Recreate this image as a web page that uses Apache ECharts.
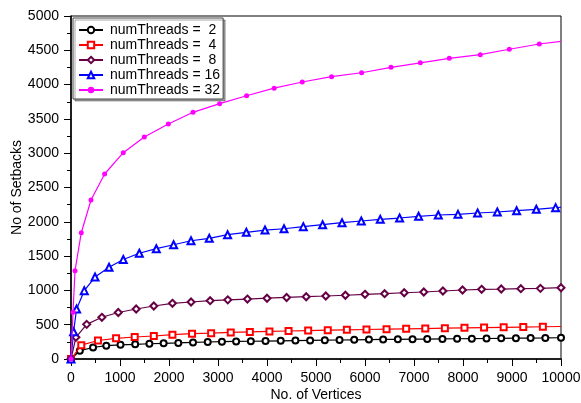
<!DOCTYPE html>
<html>
<head>
<meta charset="utf-8">
<script src="https://cdn.jsdelivr.net/npm/echarts@6/dist/echarts.min.js"></script>
<style>
  html, body { margin: 0; padding: 0; background: #fff; }
  #chart { width: 581px; height: 403px; }
</style>
</head>
<body>
<div id="chart"></div>
<script>
// ===== datos =====
const X_TICKS = [0, 10000, 1000];
const Y_TICKS = [0, 5000, 500];

const names = ['numThreads =  2', 'numThreads =  4', 'numThreads =  8', 'numThreads = 16', 'numThreads = 32'];

const x2 = [0, 180, 450, 720, 1010, 1310, 1600, 1890, 2190, 2490, 2790, 3080, 3370, 3670, 3970, 4280, 4580, 4880, 5180, 5480, 5780, 6080, 6370, 6670, 6970, 7270, 7580, 7880, 8180, 8480, 8780, 9080, 9380, 9680, 10000];
const y2 = [0, 121, 168, 194, 206, 214, 222, 229, 234, 242, 248, 252, 256, 259, 262, 265, 268, 271, 274, 277, 280, 283, 285, 287, 289, 291, 293, 295, 297, 299, 301, 303, 305, 307, 310];

const x4 = [0, 210, 550, 920, 1300, 1690, 2070, 2470, 2860, 3260, 3650, 4050, 4440, 4840, 5240, 5630, 6030, 6440, 6840, 7230, 7630, 8030, 8430, 8830, 9230, 9630, 10000];
const y4 = [0, 202, 270, 302, 321, 335, 354, 369, 377, 387, 395, 402, 408, 414, 420, 425, 430, 435, 440, 444, 449, 454, 458, 462, 466, 470, 474];

const x8 = [0, 100, 320, 630, 965, 1330, 1690, 2070, 2450, 2840, 3200, 3600, 4000, 4400, 4800, 5200, 5600, 6000, 6400, 6800, 7200, 7590, 7990, 8380, 8780, 9180, 9580, 10000];
const y8 = [0, 316, 505, 608, 678, 729, 773, 812, 831, 850, 862, 874, 886, 897, 908, 918, 929, 943, 952, 966, 977, 991, 1006, 1016, 1020, 1025, 1030, 1039];

const x16 = [0, 53, 114, 271, 490, 776, 1067, 1394, 1741, 2094, 2449, 2822, 3196, 3578, 3959, 4347, 4741, 5135, 5531, 5924, 6312, 6706, 7094, 7496, 7898, 8298, 8700, 9094, 9496, 9890, 10000];
const y16 = [0, 398, 729, 996, 1195, 1337, 1450, 1541, 1608, 1666, 1724, 1759, 1812, 1847, 1880, 1899, 1929, 1958, 1987, 2012, 2036, 2055, 2080, 2099, 2109, 2128, 2143, 2162, 2182, 2206, 2212];

const x32 = [0, 41, 82, 210, 408, 686, 1067, 1496, 1986, 2490, 3033, 3584, 4146, 4720, 5318, 5931, 6531, 7129, 7720, 8353, 8945, 9557, 10000];
const y32 = [0, 681, 1287, 1841, 2318, 2697, 3007, 3236, 3426, 3596, 3722, 3838, 3948, 4038, 4115, 4173, 4252, 4317, 4383, 4436, 4515, 4592, 4631];

// ---- estilos ----
const FONT = 'Liberation Sans';
const COLORS = ['#000000', '#ff0000', '#660044', '#0000ff', '#ff00ff'];
const SYMBOLS = ['emptyCircle', 'emptyRect', 'emptyDiamond', 'emptyTriangle', 'circle'];
const SIZES = [6, 6, 7, 7, 5];
// último punto sin marcador (rojo, azul, magenta)
const lastNoSymbol = [false, true, false, true, true];

const zip = (xs, ys, noLast) => xs.map((x, i) => {
  const p = [x, ys[i]];
  return (noLast && i === xs.length - 1) ? { value: p, symbol: 'none' } : p;
});

const seriesData = [[x2, y2], [x4, y4], [x8, y8], [x16, y16], [x32, y32]];

const series = seriesData.map(([xs, ys], i) => ({
  name: names[i],
  type: 'line',
  data: zip(xs, ys, lastNoSymbol[i]),
  smooth: false,
  symbol: SYMBOLS[i],
  symbolSize: SIZES[i],
  showAllSymbol: true,
  lineStyle: { color: COLORS[i], width: 1.2 },
  itemStyle: { color: COLORS[i], borderWidth: 0.9 },
  z: 2 + i,
}));

const chart = echarts.init(document.getElementById('chart'), null, { renderer: 'canvas' });
chart.setOption({
  animation: false,
  textStyle: { fontFamily: FONT },
  grid: {
    left: 71, right: 20, top: 16, bottom: 44, containLabel: false, outerBoundsMode: 'none',
    show: true, borderColor: '#000', borderWidth: 1,
  },
  legend: {
    orient: 'vertical', left: 73, top: 18,
    padding: [5, 3, 2, 5], itemGap: 1,
    itemWidth: 24, itemHeight: 8,
    borderColor: '#444', borderWidth: 1, backgroundColor: '#fff',
    shadowColor: 'rgba(0,0,0,0.35)', shadowOffsetX: 2, shadowOffsetY: 2,
    textStyle: { fontFamily: FONT, fontSize: 14, color: '#000', padding: [0, 0, 0, 2] },
    data: names,
  },
  xAxis: {
    type: 'value', min: X_TICKS[0], max: X_TICKS[1], interval: X_TICKS[2],
    name: 'No. of Vertices', nameLocation: 'middle', nameGap: 29, nameMoveOverlap: false,
    nameTextStyle: { fontFamily: FONT, fontSize: 14, color: '#000' },
    axisLine: { onZero: false, lineStyle: { color: '#000', width: 1.5 } },
    axisTick: { inside: false, length: 7, lineStyle: { color: '#000' } },
    minorTick: { show: true, splitNumber: 2, length: 4, lineStyle: { color: '#000' } },
    axisLabel: { fontFamily: FONT, fontSize: 14, color: '#000', margin: 12, formatter: v => String(v) },
    splitLine: { show: false },
  },
  yAxis: {
    type: 'value', min: Y_TICKS[0], max: Y_TICKS[1], interval: Y_TICKS[2],
    name: 'No of Setbacks', nameLocation: 'middle', nameGap: 47, nameRotate: 90, nameMoveOverlap: false,
    nameTextStyle: { fontFamily: FONT, fontSize: 14, color: '#000' },
    axisLine: { onZero: false, lineStyle: { color: '#000', width: 1.5 } },
    axisTick: { inside: false, length: 7, lineStyle: { color: '#000' } },
    minorTick: { show: true, splitNumber: 2, length: 4, lineStyle: { color: '#000' } },
    axisLabel: { fontFamily: FONT, fontSize: 14, color: '#000', margin: 12, formatter: v => String(v) },
    splitLine: { show: false },
  },
  series,
});
</script>
</body>
</html>
